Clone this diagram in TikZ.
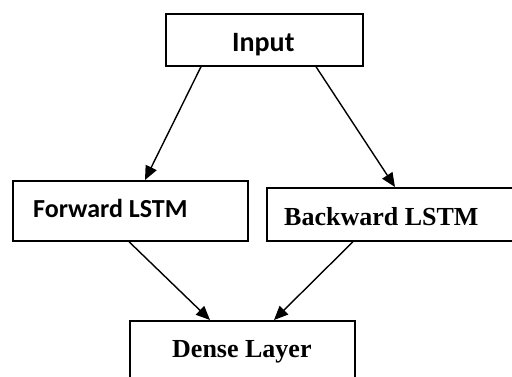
\documentclass[tikz,border=0pt]{standalone}
\usepackage{fontspec}
\newfontfamily\calfont{Carlito}
\newfontfamily\timesfont{Liberation Serif}
\usetikzlibrary{arrows.meta}
\begin{document}
\begin{tikzpicture}[x=1pt,y=-1pt,
  box/.style={draw=black, line width=1.7pt, rectangle, inner sep=0pt, anchor=north west},
  sanslbl/.style={anchor=base west, inner sep=0pt, font=\calfont\bfseries\fontsize{26}{30}\selectfont},
  seriflbl/.style={anchor=base west, inner sep=0pt, font=\timesfont\bfseries\fontsize{26}{30}\selectfont},
  arr/.style={line width=1.4pt, -{Triangle[length=14pt,width=12pt]}}]
\useasboundingbox (0,0) rectangle (512,376);
\node[box, minimum width=197pt, minimum height=52pt] (in) at (165,13) {};
\node[box, minimum width=235pt, minimum height=60pt] (fw) at (12,180) {};
\node[box, minimum width=250pt, minimum height=53pt] (bw) at (266,187) {};
\node[box, minimum width=225pt, minimum height=62pt] (dl) at (129,320) {};
\node[sanslbl, font=\calfont\bfseries\fontsize{28}{32}\selectfont] (tin) at (232,51) {Input};
\node[sanslbl] (tfw) at (33,217) {Forward LSTM};
\node[seriflbl] (tbw) at (284,225) {Backward LSTM};
\node[seriflbl] (tdl) at (172,357) {Dense Layer};
\draw[arr] ([xshift=36pt]in.south west) -- ([xshift=133pt]fw.north west);
\draw[arr] ([xshift=151pt]in.south west) -- ([xshift=129pt]bw.north west);
\draw[arr] ([xshift=117pt]fw.south west) -- ([xshift=81pt]dl.north west);
\draw[arr] ([xshift=87pt]bw.south west) -- ([xshift=145pt]dl.north west);
\end{tikzpicture}
\end{document}
